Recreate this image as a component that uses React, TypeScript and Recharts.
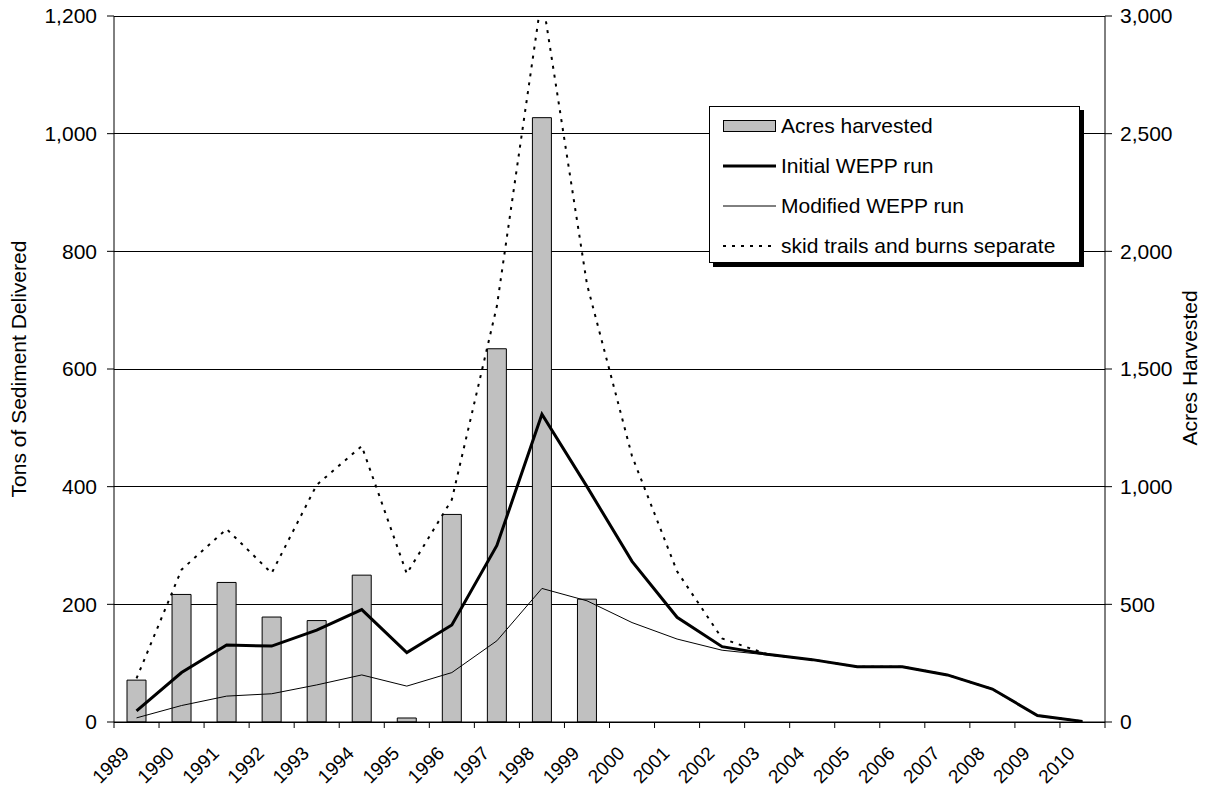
import { ComposedChart, Bar, Line, XAxis, YAxis, CartesianGrid } from 'recharts';

const YEARS = [
  '1989', '1990', '1991', '1992', '1993', '1994', '1995', '1996', '1997', '1998', '1999',
  '2000', '2001', '2002', '2003', '2004', '2005', '2006', '2007', '2008', '2009', '2010',
];
const ACRES_HARVESTED = [178, 542, 593, 446, 431, 624, 17, 882, 1586, 2568, 522, null, null, null, null, null, null, null, null, null, null, null];
const INITIAL_WEPP = [19, 84, 131, 129, 156, 191, 118, 165, 300, 523, 400, 273, 178, 128, 115, 106, 94, 94, 80, 56, 11, 1];
const MODIFIED_WEPP = [7, 28, 44, 48, 63, 80, 61, 84, 138, 227, 206, 169, 141, 122, 114, 106, 94, 94, 80, 56, 11, 1];
const SKID_SEPARATE = [74, 259, 328, 253, 403, 469, 252, 378, 707, 1235, 744, 452, 256, 142, 115, 106, 94, 94, 80, 56, 11, 1];
const LEFT_TICKS = [0, 200, 400, 600, 800, 1000, 1200];
const RIGHT_TICKS = [0, 500, 1000, 1500, 2000, 2500, 3000];

const data = YEARS.map((year, i) => ({
  year,
  acres: ACRES_HARVESTED[i],
  initial: INITIAL_WEPP[i],
  modified: MODIFIED_WEPP[i],
  skid: SKID_SEPARATE[i],
}));

const W = 1211;
const H = 788;
const LEFT_W = 114;
const RIGHT_W = 106;
const FONT = "'Liberation Sans', Arial, sans-serif";
const FS = 21;
const band = (W - LEFT_W - RIGHT_W) / YEARS.length;

const fmt = (v: number) => v.toLocaleString('en-US');

// year labels sit under the category centre, tick marks between categories
const YearTick = (props: any) => {
  const { x, y, payload, index } = props;
  const half = band / 2;
  const ax = x - 11;
  const ay = y + 28;
  return (
    <g>
      <line x1={x - half} x2={x - half} y1={y} y2={y + 6} stroke="#000" />
      {index === YEARS.length - 1 && <line x1={x + half} x2={x + half} y1={y} y2={y + 6} stroke="#000" />}
      <text
        x={ax}
        y={ay}
        transform={`rotate(-45 ${ax} ${ay})`}
        textAnchor="end"
        dominantBaseline="central"
        fontFamily={FONT}
        fontSize={19}
        fill="#000"
      >
        {payload.value}
      </text>
    </g>
  );
};

const legendRows = [
  { label: 'Acres harvested', kind: 'bar' },
  { label: 'Initial WEPP run', kind: 'thick' },
  { label: 'Modified WEPP run', kind: 'thin' },
  { label: 'skid trails and burns separate', kind: 'dotted' },
];

const LegendBox = () => (
  <div
    style={{
      position: 'absolute',
      left: 709,
      top: 106,
      width: 371,
      height: 157,
      border: '1px solid #000',
      boxShadow: '4px 4px 0 #000',
      background: '#fff',
      boxSizing: 'border-box',
      fontFamily: FONT,
      fontSize: FS,
    }}
  >
    {legendRows.map((row, i) => (
      <div key={row.label} style={{ position: 'absolute', left: 0, top: 19 + i * 40 - 13, height: 26, width: '100%' }}>
        <svg width={56} height={26} style={{ position: 'absolute', left: 12, top: 0 }}>
          {row.kind === 'bar' && <rect x={1.5} y={7.5} width={52} height={11} fill="#C0C0C0" stroke="#000" />}
          {row.kind === 'thick' && <line x1={1} x2={54} y1={13} y2={13} stroke="#000" strokeWidth={3} />}
          {row.kind === 'thin' && <line x1={1} x2={54} y1={13} y2={13} stroke="#000" strokeWidth={1} />}
          {row.kind === 'dotted' && <line x1={1} x2={54} y1={13} y2={13} stroke="#000" strokeWidth={2} strokeDasharray="3 6" />}
        </svg>
        <span style={{ position: 'absolute', left: 71, top: 0, lineHeight: '26px', whiteSpace: 'nowrap' }}>{row.label}</span>
      </div>
    ))}
  </div>
);

const axisTitle = (text: string, cx: number, cy: number) => (
  <div
    style={{
      position: 'absolute',
      left: cx,
      top: cy,
      transform: 'translate(-50%, -50%) rotate(-90deg)',
      whiteSpace: 'nowrap',
      fontFamily: FONT,
      fontSize: FS,
      color: '#000',
    }}
  >
    {text}
  </div>
);

export default function App() {
  return (
    <div style={{ position: 'absolute', left: 0, top: 0, width: W, height: H, background: '#fff' }}>
      <ComposedChart width={W} height={H} data={data} margin={{ top: 16, right: 0, bottom: 0, left: 0 }}>
        <CartesianGrid yAxisId="left" vertical={false} stroke="#000" shapeRendering="crispEdges" />
        <XAxis
          dataKey="year"
          interval={0}
          height={66}
          tickLine={false}
          tickSize={0}
          tickMargin={0}
          axisLine={{ stroke: '#000' }}
          tick={<YearTick />}
        />
        <YAxis
          yAxisId="left"
          width={LEFT_W}
          domain={[0, 1200]}
          ticks={LEFT_TICKS}
          allowDataOverflow
          tickFormatter={fmt}
          tickSize={7}
          tickMargin={10}
          axisLine={{ stroke: '#000' }}
          tickLine={{ stroke: '#000' }}
          tick={{ fill: '#000', fontSize: FS, fontFamily: FONT }}
        />
        <YAxis
          yAxisId="right"
          orientation="right"
          width={RIGHT_W}
          domain={[0, 3000]}
          ticks={RIGHT_TICKS}
          tickFormatter={fmt}
          tickSize={7}
          tickMargin={8}
          axisLine={{ stroke: '#000' }}
          tickLine={{ stroke: '#000' }}
          tick={{ fill: '#000', fontSize: FS, fontFamily: FONT }}
        />
        <Bar yAxisId="right" dataKey="acres" barSize={19} fill="#C0C0C0" stroke="#000" strokeWidth={1} isAnimationActive={false} />
        <Line yAxisId="left" type="linear" dataKey="initial" stroke="#000" strokeWidth={3} dot={false} isAnimationActive={false} />
        <Line yAxisId="left" type="linear" dataKey="modified" stroke="#000" strokeWidth={1} dot={false} isAnimationActive={false} />
        <Line yAxisId="left" type="linear" dataKey="skid" stroke="#000" strokeWidth={2} strokeDasharray="3 6" dot={false} isAnimationActive={false} />
      </ComposedChart>
      {axisTitle('Tons of Sediment Delivered', 19, 369)}
      {axisTitle('Acres Harvested', 1190, 368)}
      <LegendBox />
    </div>
  );
}
